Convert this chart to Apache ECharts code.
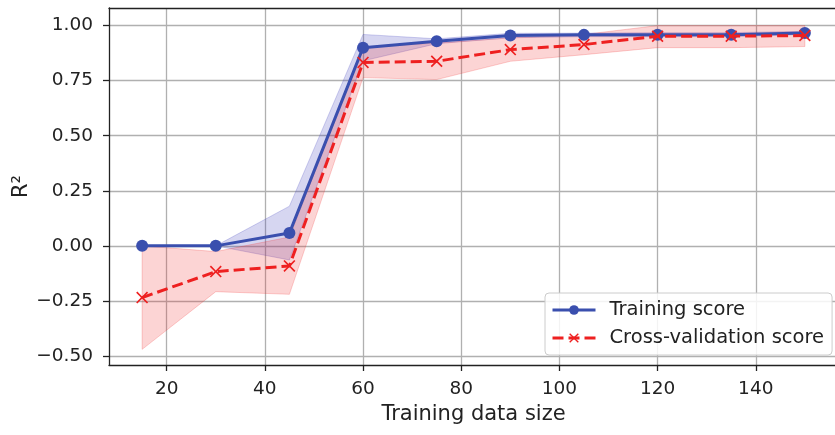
<!DOCTYPE html>
<html>
<head>
<meta charset="utf-8">
<script src="https://cdn.jsdelivr.net/npm/echarts@6/dist/echarts.min.js"></script>
<style>
  html, body { margin: 0; padding: 0; background: #fff; }
  #chart { width: 835px; height: 435px; }
</style>
</head>
<body>
<div id="chart"></div>
<script>
// training set sizes (x) and scores
const trainSizes = [15, 30, 45, 60, 75, 90, 105, 120, 135, 150]
const trainMean = [0.0, 0.0, 0.058, 0.900, 0.929, 0.955, 0.958, 0.959, 0.959, 0.967]
const trainLow = [0.0, 0.0, -0.064, 0.84, 0.918, 0.945, 0.950, 0.950, 0.950, 0.960]
const trainHigh = [0.0, 0.0, 0.180, 0.96, 0.940, 0.965, 0.966, 0.968, 0.968, 0.974]
const cvMean = [-0.235, -0.117, -0.091, 0.833, 0.838, 0.891, 0.914, 0.952, 0.952, 0.955]
const cvLow = [-0.470, -0.208, -0.220, 0.764, 0.755, 0.838, 0.868, 0.900, 0.900, 0.905]
const cvHigh = [0.0, -0.026, 0.040, 0.902, 0.921, 0.944, 0.960, 1.0, 1.0, 1.0]
const xTicks = [20, 40, 60, 80, 100, 120, 140]
const yTicks = [-0.5, -0.25, 0, 0.25, 0.5, 0.75, 1.0]

const FONT = 'DejaVu Sans'
const BLUE = '#3a4fae'
const RED = '#ee2020'
const X_MIN = 8.25
const X_MAX = 156.75

function band(low, high, fill, stroke) {
  return {
    type: 'custom',
    silent: true,
    clip: true,
    z: 1,
    data: trainSizes.map((x, i) => [x, low[i], high[i]]),
    encode: { x: 0, y: [1, 2] },
    renderItem: function(params, api) {
      if (params.dataIndex !== 0) return
      const pts = []
      for (let i = 0; i < trainSizes.length; i++) {
        pts.push(api.coord([trainSizes[i], low[i]]))
      }
      for (let i = trainSizes.length - 1; i >= 0; i--) {
        pts.push(api.coord([trainSizes[i], high[i]]))
      }
      return {
        type: 'polygon',
        shape: { points: pts },
        style: { fill: fill, stroke: stroke, lineWidth: 1 }
      }
    }
  }
}

const chart = echarts.init(document.getElementById('chart'))
chart.setOption({
  backgroundColor: '#fff',
  animation: false,
  textStyle: { fontFamily: FONT },
  grid: {
    left: 109,
    top: 8,
    width: 729,
    height: 357,
    outerBoundsMode: 'none'
  },
  legend: {
    left: 545,
    top: 293,
    orient: 'vertical',
    padding: [7, 8, 7, 6],
    itemGap: 8,
    itemWidth: 43,
    itemHeight: 12,
    backgroundColor: 'rgba(255,255,255,0.85)',
    borderColor: '#cccccc',
    borderWidth: 1,
    borderRadius: 4,
    lineStyle: { width: 3 },
    textStyle: { fontFamily: FONT, fontSize: 19.5, color: '#222', padding: [0, 0, 0, 9] },
    data: ['Training score', 'Cross-validation score']
  },
  xAxis: [{
    type: 'value',
    min: X_MIN,
    max: X_MAX,
    name: 'Training data size',
    nameLocation: 'middle',
    nameGap: 39,
    nameMoveOverlap: false,
    nameTextStyle: { fontFamily: FONT, fontSize: 21, color: '#222' },
    axisLine: { onZero: false, lineStyle: { color: '#222', width: 1.3 } },
    axisTick: { length: 6, customValues: xTicks, lineStyle: { color: '#222', width: 1.3 } },
    axisLabel: {
      customValues: xTicks,
      margin: 15,
      fontFamily: FONT,
      fontSize: 18.5,
      color: '#222'
    },
    splitLine: { show: true, lineStyle: { color: '#b0b0b0', width: 1.3 } }
  }, {
    // top spine only
    type: 'value',
    position: 'top',
    min: X_MIN,
    max: X_MAX,
    axisLine: { show: true, onZero: false, lineStyle: { color: '#222', width: 1.3 } },
    axisTick: { show: false },
    axisLabel: { show: false },
    splitLine: { show: false }
  }],
  yAxis: {
    type: 'value',
    min: -0.541,
    max: 1.08,
    name: 'R²',
    nameLocation: 'middle',
    nameRotate: 90,
    nameGap: 77,
    nameMoveOverlap: false,
    nameTextStyle: { fontFamily: FONT, fontSize: 21, color: '#222' },
    axisLine: { show: true, onZero: false, lineStyle: { color: '#222', width: 1.3 } },
    axisTick: { show: true, length: 6, customValues: yTicks, lineStyle: { color: '#222', width: 1.3 } },
    axisLabel: {
      customValues: yTicks,
      margin: 16,
      fontFamily: FONT,
      fontSize: 18.5,
      color: '#222',
      formatter: function(v) {
        return v.toFixed(2).replace('-', '\u2212')
      }
    },
    splitLine: { show: true, lineStyle: { color: '#b0b0b0', width: 1.3 } }
  },
  series: [
    band(trainLow, trainHigh, 'rgba(70,70,190,0.22)', 'rgba(70,70,190,0.25)'),
    band(cvLow, cvHigh, 'rgba(240,40,40,0.2)', 'rgba(240,40,40,0.22)'),
    {
      name: 'Training score',
      type: 'line',
      z: 3,
      data: trainSizes.map((x, i) => [x, trainMean[i]]),
      symbol: 'circle',
      symbolSize: 12,
      showAllSymbol: true,
      color: BLUE,
      itemStyle: { color: BLUE },
      lineStyle: { color: BLUE, width: 3 }
    },
    {
      name: 'Cross-validation score',
      type: 'line',
      z: 4,
      data: trainSizes.map((x, i) => [x, cvMean[i]]),
      symbol: 'path://M0,1L1,0L5,4L9,0L10,1L6,5L10,9L9,10L5,6L1,10L0,9L4,5Z',
      symbolSize: 12,
      showAllSymbol: true,
      color: RED,
      itemStyle: { color: RED },
      lineStyle: { color: RED, width: 3, type: [11, 5] }
    }
  ]
})
</script>
</body>
</html>
